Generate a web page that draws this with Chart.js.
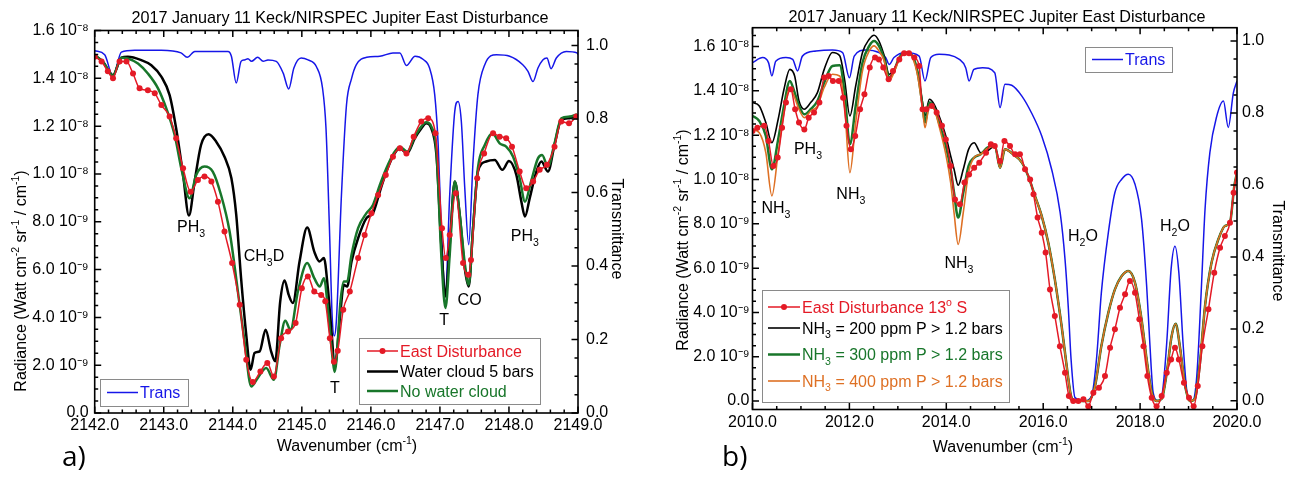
<!DOCTYPE html>
<html lang="en">
  <head>
    <meta charset="UTF-8" />
    <title>2017 January 11 Keck/NIRSPEC Jupiter East Disturbance</title>
    <style>
      body {
        margin: 0;
        background: #fff;
      }
      .panel {
        position: absolute;
        top: 0;
        width: 646px;
        height: 477px;
      }
      #panelA {
        left: 0;
      }
      #panelB {
        left: 646px;
      }
    </style>
  </head>
  <body>
    <div class="panel" id="panelA"><canvas id="chartA"></canvas></div>
    <div class="panel" id="panelB"><canvas id="chartB"></canvas></div>
    <script src="https://cdn.jsdelivr.net/npm/chart.js"></script>
    <script>
      // radiance values are in units of 10^-8 Watt cm-2 sr-1 / cm-1
      // ---------- panel a) 2142 - 2149 cm-1 ----------
      const aTransX = [2142.0, 2142.145, 2142.265, 2142.386, 2142.58, 2142.965, 2143.25, 2143.34, 2143.45, 2143.93, 2143.98, 2144.05, 2144.12, 2144.17, 2144.22, 2144.27, 2144.36, 2144.44, 2144.51, 2144.63, 2144.73, 2144.81, 2144.885, 2144.99, 2145.09, 2145.21, 2145.3, 2145.35, 2145.4, 2145.44, 2145.47, 2145.5, 2145.574, 2145.647, 2145.72, 2145.79, 2145.94, 2146.13, 2146.32, 2146.42, 2146.515, 2146.64, 2146.76, 2146.85, 2146.925, 2146.975, 2147.02, 2147.08, 2147.142, 2147.215, 2147.263, 2147.31, 2147.36, 2147.417, 2147.48, 2147.55, 2147.65, 2147.82, 2148.01, 2148.2, 2148.276, 2148.348, 2148.42, 2148.49, 2148.55, 2148.61, 2148.686, 2148.83, 2148.985, 2149.0]
      const aTransY = [0.986, 0.975, 0.916, 0.982, 0.987, 0.987, 0.98, 0.968, 0.984, 0.984, 0.971, 0.898, 0.957, 0.961, 0.964, 0.957, 0.968, 0.957, 0.961, 0.957, 0.925, 0.882, 0.939, 0.966, 0.961, 0.943, 0.884, 0.775, 0.503, 0.26, 0.21, 0.25, 0.594, 0.839, 0.91, 0.948, 0.968, 0.971, 0.98, 0.98, 0.946, 0.971, 0.962, 0.939, 0.866, 0.73, 0.503, 0.331, 0.594, 0.821, 0.848, 0.794, 0.612, 0.458, 0.685, 0.866, 0.948, 0.975, 0.971, 0.948, 0.93, 0.902, 0.939, 0.961, 0.966, 0.937, 0.966, 0.984, 0.98, 0.976]

      const aEastX = [2142.0, 2142.1, 2142.19, 2142.265, 2142.36, 2142.46, 2142.555, 2142.65, 2142.77, 2142.87, 2142.965, 2143.085, 2143.18, 2143.28, 2143.39, 2143.495, 2143.59, 2143.69, 2143.785, 2143.88, 2143.99, 2144.1, 2144.195, 2144.29, 2144.4, 2144.5, 2144.595, 2144.7, 2144.8, 2144.91, 2145.0, 2145.087, 2145.18, 2145.28, 2145.34, 2145.406, 2145.465, 2145.52, 2145.6, 2145.695, 2145.815, 2145.91, 2146.008, 2146.105, 2146.216, 2146.32, 2146.42, 2146.515, 2146.62, 2146.73, 2146.83, 2146.935, 2147.03, 2147.085, 2147.142, 2147.23, 2147.335, 2147.41, 2147.45, 2147.54, 2147.64, 2147.77, 2147.865, 2147.96, 2148.044, 2148.155, 2148.25, 2148.35, 2148.445, 2148.55, 2148.66, 2148.758, 2148.87, 2148.975]
      const aEastY = [1.49, 1.47, 1.43, 1.4, 1.47, 1.47, 1.42, 1.358, 1.35, 1.337, 1.288, 1.24, 1.149, 1.024, 0.926, 0.975, 0.989, 0.968, 0.884, 0.759, 0.627, 0.453, 0.223, 0.13, 0.174, 0.209, 0.153, 0.313, 0.341, 0.376, 0.522, 0.571, 0.508, 0.494, 0.467, 0.313, 0.214, 0.26, 0.432, 0.508, 0.648, 0.745, 0.836, 0.912, 0.996, 1.072, 1.107, 1.086, 1.156, 1.219, 1.233, 1.17, 0.773, 0.648, 0.745, 0.919, 0.627, 0.578, 0.64, 0.982, 1.086, 1.17, 1.156, 1.149, 1.114, 1.01, 0.94, 0.968, 1.017, 1.038, 1.114, 1.219, 1.212, 1.24]

      const aCloudX = [2142.0, 2142.12, 2142.265, 2142.386, 2142.48, 2142.675, 2142.82, 2142.965, 2143.085, 2143.18, 2143.28, 2143.365, 2143.447, 2143.54, 2143.65, 2143.76, 2143.88, 2143.98, 2144.05, 2144.12, 2144.195, 2144.258, 2144.315, 2144.39, 2144.475, 2144.555, 2144.615, 2144.687, 2144.75, 2144.81, 2144.87, 2144.967, 2145.078, 2145.18, 2145.256, 2145.32, 2145.377, 2145.434, 2145.475, 2145.5, 2145.56, 2145.608, 2145.656, 2145.72, 2145.815, 2145.936, 2146.03, 2146.13, 2146.225, 2146.33, 2146.42, 2146.525, 2146.636, 2146.73, 2146.8, 2146.877, 2146.95, 2147.02, 2147.08, 2147.142, 2147.215, 2147.287, 2147.36, 2147.417, 2147.48, 2147.55, 2147.67, 2147.794, 2147.905, 2148.0, 2148.107, 2148.18, 2148.232, 2148.3, 2148.397, 2148.47, 2148.565, 2148.66, 2148.758, 2148.88, 2148.985]
      const aCloudY = [1.497, 1.469, 1.414, 1.486, 1.49, 1.476, 1.455, 1.407, 1.33, 1.19, 0.996, 0.826, 0.968, 1.121, 1.166, 1.135, 1.072, 0.982, 0.829, 0.564, 0.327, 0.181, 0.251, 0.258, 0.348, 0.258, 0.216, 0.467, 0.554, 0.494, 0.46, 0.634, 0.776, 0.675, 0.634, 0.648, 0.522, 0.327, 0.19, 0.23, 0.425, 0.536, 0.529, 0.634, 0.731, 0.815, 0.836, 0.926, 1.01, 1.079, 1.107, 1.086, 1.149, 1.19, 1.212, 1.19, 1.079, 0.703, 0.487, 0.703, 0.968, 0.829, 0.606, 0.529, 0.773, 1.01, 1.052, 1.058, 1.017, 1.054, 0.996, 0.884, 0.822, 0.898, 1.01, 1.052, 1.01, 1.121, 1.226, 1.233, 1.247]

      const aNoCloudX = [2142.0, 2142.12, 2142.265, 2142.386, 2142.48, 2142.627, 2142.77, 2142.917, 2143.037, 2143.158, 2143.264, 2143.375, 2143.47, 2143.59, 2143.71, 2143.83, 2143.954, 2144.074, 2144.17, 2144.267, 2144.36, 2144.484, 2144.595, 2144.68, 2144.76, 2144.836, 2144.943, 2145.078, 2145.18, 2145.26, 2145.32, 2145.386, 2145.45, 2145.475, 2145.5, 2145.56, 2145.608, 2145.656, 2145.72, 2145.815, 2145.936, 2146.03, 2146.13, 2146.225, 2146.33, 2146.42, 2146.525, 2146.636, 2146.73, 2146.8, 2146.877, 2146.95, 2147.02, 2147.08, 2147.142, 2147.215, 2147.287, 2147.36, 2147.417, 2147.48, 2147.55, 2147.65, 2147.76, 2147.865, 2147.96, 2148.06, 2148.155, 2148.232, 2148.32, 2148.42, 2148.48, 2148.565, 2148.66, 2148.758, 2148.88, 2148.985]
      const aNoCloudY = [1.497, 1.469, 1.411, 1.486, 1.483, 1.462, 1.42, 1.358, 1.274, 1.163, 1.01, 0.898, 0.996, 1.031, 1.01, 0.912, 0.759, 0.508, 0.3, 0.111, 0.146, 0.188, 0.139, 0.286, 0.386, 0.348, 0.508, 0.627, 0.564, 0.529, 0.564, 0.411, 0.216, 0.172, 0.216, 0.467, 0.55, 0.55, 0.662, 0.773, 0.836, 0.87, 0.954, 1.024, 1.086, 1.114, 1.093, 1.156, 1.198, 1.216, 1.198, 1.093, 0.662, 0.439, 0.662, 0.968, 0.829, 0.626, 0.536, 0.773, 1.024, 1.121, 1.17, 1.128, 1.114, 1.072, 0.982, 0.884, 0.968, 1.065, 1.079, 1.031, 1.128, 1.233, 1.24, 1.249]

      const aXTicks = [2142, 2143, 2144, 2145, 2146, 2147, 2148, 2149]

      // ---------- panel b) 2010 - 2020 cm-1 ----------
      const bTransX = [2010.0, 2010.21, 2010.33, 2010.4, 2010.48, 2010.69, 2010.83, 2010.93, 2011.03, 2011.31, 2011.65, 2011.86, 2012.0, 2012.1, 2012.34, 2012.61, 2012.75, 2012.82, 2012.92, 2013.16, 2013.44, 2013.56, 2013.68, 2013.85, 2014.27, 2014.4, 2014.47, 2014.57, 2014.75, 2015.0, 2015.11, 2015.21, 2015.35, 2015.56, 2015.76, 2015.97, 2016.175, 2016.35, 2016.45, 2016.52, 2016.575, 2016.656, 2016.86, 2017.0, 2017.1, 2017.2, 2017.345, 2017.48, 2017.62, 2017.757, 2017.895, 2018.03, 2018.135, 2018.2, 2018.27, 2018.375, 2018.46, 2018.55, 2018.64, 2018.72, 2018.8, 2018.89, 2018.98, 2019.08, 2019.17, 2019.26, 2019.34, 2019.44, 2019.58, 2019.72, 2019.82, 2019.925, 2020.0]
      const bTransY = [0.94, 0.954, 0.94, 0.903, 0.944, 0.954, 0.949, 0.917, 0.958, 0.972, 0.975, 0.968, 0.898, 0.958, 0.975, 0.968, 0.954, 0.935, 0.954, 0.968, 0.958, 0.889, 0.954, 0.963, 0.949, 0.926, 0.889, 0.921, 0.926, 0.912, 0.815, 0.88, 0.877, 0.847, 0.8, 0.736, 0.643, 0.523, 0.394, 0.255, 0.116, 0.009, 0.0, 0.014, 0.116, 0.3, 0.468, 0.579, 0.616, 0.63, 0.602, 0.505, 0.32, 0.162, 0.023, 0.0, 0.023, 0.162, 0.366, 0.43, 0.356, 0.153, 0.014, 0.0, 0.069, 0.3, 0.532, 0.69, 0.79, 0.833, 0.76, 0.856, 0.889]

      const bEastX = [2010.0, 2010.1, 2010.24, 2010.33, 2010.43, 2010.52, 2010.61, 2010.69, 2010.79, 2010.88, 2010.96, 2011.07, 2011.16, 2011.27, 2011.38, 2011.48, 2011.57, 2011.66, 2011.78, 2011.87, 2011.94, 2012.03, 2012.12, 2012.22, 2012.31, 2012.42, 2012.53, 2012.61, 2012.7, 2012.81, 2012.9, 2013.03, 2013.13, 2013.23, 2013.34, 2013.44, 2013.51, 2013.59, 2013.7, 2013.8, 2013.91, 2013.99, 2014.09, 2014.18, 2014.28, 2014.375, 2014.47, 2014.575, 2014.68, 2014.82, 2014.92, 2015.0, 2015.11, 2015.2, 2015.315, 2015.42, 2015.52, 2015.625, 2015.73, 2015.8, 2015.885, 2015.97, 2016.05, 2016.14, 2016.24, 2016.345, 2016.45, 2016.53, 2016.62, 2016.725, 2016.83, 2016.93, 2017.035, 2017.15, 2017.275, 2017.38, 2017.48, 2017.585, 2017.69, 2017.79, 2017.895, 2017.985, 2018.07, 2018.15, 2018.24, 2018.34, 2018.445, 2018.55, 2018.64, 2018.72, 2018.8, 2018.905, 2019.01, 2019.105, 2019.19, 2019.285, 2019.41, 2019.53, 2019.65, 2019.75, 2019.855, 2019.93, 2020.0]
      const bEastY = [1.219, 1.234, 1.242, 1.174, 1.061, 1.099, 1.234, 1.347, 1.407, 1.317, 1.257, 1.226, 1.279, 1.302, 1.347, 1.46, 1.467, 1.445, 1.445, 1.369, 1.242, 1.136, 1.196, 1.317, 1.385, 1.505, 1.55, 1.542, 1.505, 1.452, 1.49, 1.542, 1.57, 1.57, 1.55, 1.512, 1.317, 1.317, 1.332, 1.302, 1.242, 1.181, 1.061, 0.91, 0.888, 0.986, 1.023, 1.053, 1.076, 1.121, 1.159, 1.151, 1.084, 1.174, 1.151, 1.114, 1.114, 1.046, 1.0, 0.933, 0.828, 0.76, 0.67, 0.504, 0.384, 0.248, 0.128, 0.023, 0.0, 0.0, 0.008, -0.023, 0.038, 0.06, 0.113, 0.241, 0.324, 0.421, 0.482, 0.542, 0.489, 0.369, 0.248, 0.113, 0.015, -0.023, 0.023, 0.128, 0.188, 0.241, 0.188, 0.083, 0.015, -0.023, 0.068, 0.248, 0.414, 0.579, 0.692, 0.745, 0.805, 0.94, 1.031]

      // model spectra, 2010 - 2015 cm-1 (they coincide above 2015 cm-1)
      const bHeadX = [2010.0, 2010.14, 2010.275, 2010.4, 2010.53, 2010.65, 2010.77, 2010.87, 2010.96, 2011.07, 2011.2, 2011.34, 2011.48, 2011.65, 2011.8, 2011.9, 2012.01, 2012.13, 2012.27, 2012.41, 2012.51, 2012.61, 2012.72, 2012.82, 2012.92, 2013.03, 2013.16, 2013.3, 2013.41, 2013.51, 2013.56, 2013.65, 2013.75, 2013.85, 2013.99, 2014.09, 2014.16, 2014.245, 2014.35, 2014.46, 2014.575, 2014.71, 2014.85, 2015.0]
      const b200Y = [1.347, 1.332, 1.257, 1.166, 1.272, 1.407, 1.497, 1.467, 1.354, 1.317, 1.347, 1.392, 1.497, 1.573, 1.558, 1.452, 1.287, 1.422, 1.573, 1.633, 1.651, 1.625, 1.558, 1.475, 1.497, 1.542, 1.573, 1.558, 1.482, 1.347, 1.287, 1.362, 1.339, 1.287, 1.196, 1.106, 1.046, 0.974, 1.046, 1.136, 1.166, 1.121, 1.13, 1.15]
      const b300Y = [1.287, 1.264, 1.196, 1.046, 1.181, 1.332, 1.445, 1.392, 1.332, 1.294, 1.317, 1.354, 1.437, 1.512, 1.515, 1.392, 1.159, 1.332, 1.527, 1.603, 1.625, 1.603, 1.542, 1.46, 1.49, 1.55, 1.573, 1.558, 1.482, 1.332, 1.257, 1.347, 1.324, 1.257, 1.151, 1.046, 0.94, 0.828, 0.94, 1.061, 1.099, 1.114, 1.144, 1.155]
      const b400Y = [1.226, 1.211, 1.121, 0.926, 1.121, 1.302, 1.415, 1.37, 1.317, 1.279, 1.309, 1.332, 1.415, 1.475, 1.467, 1.332, 1.031, 1.257, 1.49, 1.58, 1.603, 1.58, 1.535, 1.445, 1.482, 1.542, 1.573, 1.55, 1.467, 1.317, 1.234, 1.332, 1.317, 1.242, 1.114, 0.986, 0.85, 0.707, 0.85, 1.031, 1.099, 1.114, 1.14, 1.15]
      const bTailX = [2015.11, 2015.21, 2015.38, 2015.56, 2015.69, 2015.83, 2015.97, 2016.105, 2016.24, 2016.38, 2016.485, 2016.575, 2016.66, 2016.93, 2017.07, 2017.2, 2017.345, 2017.48, 2017.62, 2017.757, 2017.895, 2018.03, 2018.135, 2018.24, 2018.34, 2018.445, 2018.55, 2018.65, 2018.735, 2018.82, 2018.93, 2019.03, 2019.13, 2019.235, 2019.34, 2019.475, 2019.615, 2019.75, 2019.855, 2019.945, 2020.0]
      const bTailY = [1.053, 1.136, 1.114, 1.076, 1.016, 0.926, 0.835, 0.715, 0.549, 0.339, 0.158, 0.023, 0.0, 0.0, 0.068, 0.248, 0.399, 0.504, 0.564, 0.587, 0.534, 0.369, 0.188, 0.038, 0.0, 0.01, 0.128, 0.293, 0.349, 0.248, 0.068, 0.0, 0.01, 0.173, 0.429, 0.625, 0.73, 0.79, 0.805, 0.971, 1.03]

      const bXTicks = [2010, 2012, 2014, 2016, 2018, 2020]

      const radTicks = [0, 0.2, 0.4, 0.6, 0.8, 1.0, 1.2, 1.4, 1.6]
      const transTicks = [0, 0.2, 0.4, 0.6, 0.8, 1.0]

      const aNotes = [
        ["PH_{3}", 2143.395, 0.756],
        ["CH_{3}D", 2144.452, 0.635],
        ["T", 2145.48, 0.084],
        ["T", 2147.06, 0.368],
        ["CO", 2147.43, 0.451],
        ["PH_{3}", 2148.23, 0.718],
      ]
      const bNotes = [
        ["NH_{3}", 2010.485, 0.85],
        ["PH_{3}", 2011.145, 1.115],
        ["NH_{3}", 2012.03, 0.912],
        ["NH_{3}", 2014.26, 0.6],
        ["H_{2}O", 2016.82, 0.722],
        ["H_{2}O", 2018.72, 0.767],
      ]

      const FONT = "'Liberation Sans', Arial, Helvetica, sans-serif"
      const RED = "rgb(228, 26, 38)"
      const BLUE = "rgb(22, 22, 232)"
      const GREEN = "rgb(24, 118, 42)"
      const ORANGE = "rgb(222, 112, 36)"
      const BLACK = "#000"
      const TITLE = "2017 January 11 Keck/NIRSPEC Jupiter East Disturbance"

      function pts(xs, ys) {
        return xs.map((x, i) => ({ x: x, y: ys[i] }))
      }

      function series(label, data, color, width, axis, order, dots) {
        return {
          label: label,
          data: data,
          borderColor: color,
          backgroundColor: color,
          borderWidth: width,
          pointRadius: dots ? 3 : 0,
          pointBorderWidth: 0,
          pointHoverRadius: 0,
          cubicInterpolationMode: "monotone",
          yAxisID: axis,
          order: order,
        }
      }

      // text with _{sub} and ^{sup} parts
      function drawRich(ctx, text, x, y, size, color, align) {
        const parts = []
        const re = /([_^])\{([^}]*)\}/g
        let last = 0
        let m
        while ((m = re.exec(text))) {
          if (m.index > last) parts.push({ t: text.slice(last, m.index), k: "" })
          parts.push({ t: m[2], k: m[1] })
          last = re.lastIndex
        }
        if (last < text.length) parts.push({ t: text.slice(last), k: "" })
        let w = 0
        parts.forEach((p) => {
          p.size = p.k ? size * 0.66 : size
          ctx.font = p.size + "px " + FONT
          p.w = ctx.measureText(p.t).width
          w += p.w
        })
        let cx = align === "center" ? x - w / 2 : align === "right" ? x - w : x
        ctx.fillStyle = color
        ctx.textAlign = "left"
        ctx.textBaseline = "alphabetic"
        parts.forEach((p) => {
          ctx.font = p.size + "px " + FONT
          const dy = p.k === "_" ? size * 0.3 : p.k === "^" ? -size * 0.42 : 0
          ctx.fillText(p.t, cx, y + dy)
          cx += p.w
        })
      }

      function rotated(ctx, text, x, y, angle, size) {
        ctx.save()
        ctx.translate(x, y)
        ctx.rotate(angle)
        drawRich(ctx, text, 0, size * 0.36, size, BLACK, "center")
        ctx.restore()
      }

      function inwardTicks(ctx, scale, step, majors, sides, area) {
        const n0 = Math.ceil(scale.min / step - 1e-6)
        const n1 = Math.floor(scale.max / step + 1e-6)
        ctx.beginPath()
        for (let n = n0; n <= n1; n++) {
          const v = n * step
          const len = majors.some((t) => Math.abs(t - v) < step / 10) ? 6.5 : 3.5
          const p = scale.getPixelForValue(v)
          sides.forEach((s) => {
            if (s === "bottom") { ctx.moveTo(p, area.bottom); ctx.lineTo(p, area.bottom - len) }
            if (s === "top") { ctx.moveTo(p, area.top); ctx.lineTo(p, area.top + len) }
            if (s === "left") { ctx.moveTo(area.left, p); ctx.lineTo(area.left + len, p) }
            if (s === "right") { ctx.moveTo(area.right, p); ctx.lineTo(area.right - len, p) }
          })
        }
        ctx.stroke()
      }

      function legendBox(ctx, box, rows) {
        ctx.fillStyle = "#fff"
        ctx.fillRect(box[0], box[1], box[2] - box[0], box[3] - box[1])
        ctx.strokeStyle = "#8a8a8a"
        ctx.lineWidth = 1
        ctx.strokeRect(box[0] + 0.5, box[1] + 0.5, box[2] - box[0], box[3] - box[1])
        rows.forEach((r) => {
          ctx.strokeStyle = r.color
          ctx.lineWidth = r.width
          ctx.beginPath()
          ctx.moveTo(r.x0, r.y)
          ctx.lineTo(r.x1, r.y)
          ctx.stroke()
          if (r.dot) {
            ctx.fillStyle = r.color
            ctx.beginPath()
            ctx.arc((r.x0 + r.x1) / 2, r.y, 3, 0, Math.PI * 2)
            ctx.fill()
          }
          drawRich(ctx, r.text, r.x1 + 2, r.y + 5.5, 16, r.color, "left")
        })
      }

      function makeDecor(cfg) {
        return {
          id: "decor",
          afterDraw(chart) {
            const ctx = chart.ctx
            const area = chart.chartArea
            const sx = chart.scales.x
            const sy = chart.scales.y
            const st = chart.scales.yT
            ctx.save()
            ctx.strokeStyle = BLACK
            ctx.lineWidth = 1.5
            inwardTicks(ctx, sx, cfg.xMinor, cfg.xTicks, ["bottom", "top"], area)
            inwardTicks(ctx, sy, 0.05, radTicks, ["left"], area)
            inwardTicks(ctx, st, 0.05, transTicks, ["right"], area)
            ctx.lineWidth = 1.6
            ctx.strokeRect(area.left, area.top, area.right - area.left, area.bottom - area.top)

            cfg.notes.forEach((n) => {
              drawRich(ctx, n[0], sx.getPixelForValue(n[1]), sy.getPixelForValue(n[2]), 16, BLACK, "center")
            })
            cfg.legends.forEach((l) => legendBox(ctx, l.box, l.rows))

            drawRich(ctx, TITLE, cfg.titleX, cfg.titleY, 16.2, BLACK, "center")
            rotated(ctx, "Radiance (Watt cm^{-2} sr^{-1} / cm^{-1})", cfg.radTitle[0], cfg.radTitle[1], -Math.PI / 2, 16)
            rotated(ctx, "Transmittance", cfg.transTitle[0], cfg.transTitle[1], Math.PI / 2, 16)
            drawRich(ctx, "Wavenumber (cm^{-1})", cfg.xTitle[0], cfg.xTitle[1], 16, BLACK, "center")
            ctx.font = "28px 'Open Sans', " + FONT
            ctx.fillStyle = BLACK
            ctx.textAlign = "left"
            ctx.fillText(cfg.tag, cfg.tagPos[0], cfg.tagPos[1])
            ctx.restore()
          },
        }
      }

      function radLabel(v) {
        if (Math.abs(v) < 1e-6) return "0.0"
        if (v > 0.999) return v.toFixed(1) + " 10⁻⁸"
        return (v * 10).toFixed(1) + " 10⁻⁹"
      }

      function makeChart(id, datasets, cfg) {
        const tickFont = { family: FONT, size: 16 }
        return new Chart(document.getElementById(id), {
          type: "line",
          data: { datasets: datasets },
          options: {
            responsive: true,
            maintainAspectRatio: false,
            animation: false,
            events: [],
            layout: { padding: { top: cfg.top, left: 0, right: 0, bottom: 0 } },
            plugins: { legend: { display: false }, tooltip: { enabled: false } },
            scales: {
              x: {
                type: "linear",
                min: cfg.xMin,
                max: cfg.xMax,
                afterBuildTicks: (s) => { s.ticks = cfg.xTicks.map((v) => ({ value: v })) },
                afterFit: (s) => { s.height = cfg.bottomH },
                ticks: { callback: (v) => v.toFixed(1), font: tickFont, color: BLACK, padding: 3, maxRotation: 0, autoSkip: false },
                grid: { display: false, drawTicks: false },
                border: { display: false },
              },
              y: {
                position: "left",
                min: cfg.radMin,
                max: cfg.radMax,
                afterBuildTicks: (s) => { s.ticks = radTicks.map((v) => ({ value: v })) },
                afterFit: (s) => { s.width = cfg.leftW },
                ticks: { callback: radLabel, font: tickFont, color: BLACK, padding: cfg.leftPad },
                grid: { display: false, drawTicks: false },
                border: { display: false },
              },
              yT: {
                position: "right",
                min: cfg.transMin,
                max: cfg.transMax,
                afterBuildTicks: (s) => { s.ticks = transTicks.map((v) => ({ value: v })) },
                afterFit: (s) => { s.width = cfg.rightW },
                ticks: { callback: (v) => v.toFixed(1), font: tickFont, color: BLACK, padding: cfg.rightPad },
                grid: { display: false, drawTicks: false },
                border: { display: false },
              },
            },
          },
          plugins: [makeDecor(cfg)],
        })
      }

      // panel a)
      makeChart(
        "chartA",
        [
          series("East Disturbance", pts(aEastX, aEastY), RED, 1.5, "y", 1, true),
          series("No water cloud", pts(aNoCloudX, aNoCloudY), GREEN, 2.5, "y", 2, false),
          series("Water cloud 5 bars", pts(aCloudX, aCloudY), BLACK, 2.5, "y", 3, false),
          series("Trans", pts(aTransX, aTransY), BLUE, 1.5, "yT", 4, false),
        ],
        {
          top: 30.5, bottomH: 64, leftW: 94.7, rightW: 68, leftPad: 6, rightPad: 8,
          xMin: 2142, xMax: 2149, xTicks: aXTicks, xMinor: 0.2,
          radMin: 0, radMax: 1.6, transMin: 0, transMax: 1.041,
          notes: aNotes,
          legends: [
            { box: [100, 379, 188, 406], rows: [{ text: "Trans", color: BLUE, width: 1.5, x0: 107, x1: 138, y: 392.5 }] },
            {
              box: [359, 338, 540, 404],
              rows: [
                { text: "East Disturbance", color: RED, width: 1.5, x0: 367, x1: 398, y: 351, dot: true },
                { text: "Water cloud 5 bars", color: BLACK, width: 2.5, x0: 367, x1: 398, y: 371.5 },
                { text: "No water cloud", color: GREEN, width: 2.5, x0: 367, x1: 398, y: 391 },
              ],
            },
          ],
          titleX: 340, titleY: 23,
          radTitle: [20, 281], transTitle: [618, 229], xTitle: [347, 451],
          tag: "a)", tagPos: [62, 466],
        }
      )

      // panel b)
      makeChart(
        "chartB",
        [
          series("East Disturbance 13° S", pts(bEastX, bEastY), RED, 1.5, "y", 1, true),
          series("NH3 = 400 ppm P > 1.2 bars", pts(bHeadX.concat(bTailX), b400Y.concat(bTailY)), ORANGE, 1.6, "y", 2, false),
          series("NH3 = 300 ppm P > 1.2 bars", pts(bHeadX.concat(bTailX), b300Y.concat(bTailY)), GREEN, 2.5, "y", 3, false),
          series("NH3 = 200 ppm P > 1.2 bars", pts(bHeadX.concat(bTailX), b200Y.concat(bTailY)), BLACK, 1.6, "y", 4, false),
          series("Trans", pts(bTransX, bTransY), BLUE, 1.5, "yT", 5, false),
        ],
        {
          top: 27.7, bottomH: 67.5, leftW: 106.5, rightW: 55, leftPad: 3, rightPad: 5,
          xMin: 2010, xMax: 2020, xTicks: bXTicks, xMinor: 0.5,
          radMin: -0.038, radMax: 1.685, transMin: -0.024, transMax: 1.037,
          notes: bNotes,
          legends: [
            { box: [439, 47, 526, 72], rows: [{ text: "Trans", color: BLUE, width: 1.5, x0: 446, x1: 477, y: 59.5 }] },
            {
              box: [116, 290, 363, 402],
              rows: [
                { text: "East Disturbance 13^{o} S", color: RED, width: 1.5, x0: 122, x1: 154, y: 307, dot: true },
                { text: "NH_{3} = 200 ppm P > 1.2 bars", color: BLACK, width: 1.6, x0: 122, x1: 154, y: 328 },
                { text: "NH_{3} = 300 ppm P > 1.2 bars", color: GREEN, width: 2.5, x0: 122, x1: 154, y: 354.5 },
                { text: "NH_{3} = 400 ppm P > 1.2 bars", color: ORANGE, width: 1.6, x0: 122, x1: 154, y: 381 },
              ],
            },
          ],
          titleX: 351, titleY: 22,
          radTitle: [36, 240], transTitle: [633, 251], xTitle: [357, 452],
          tag: "b)", tagPos: [76, 466],
        }
      )
    </script>
  </body>
</html>
